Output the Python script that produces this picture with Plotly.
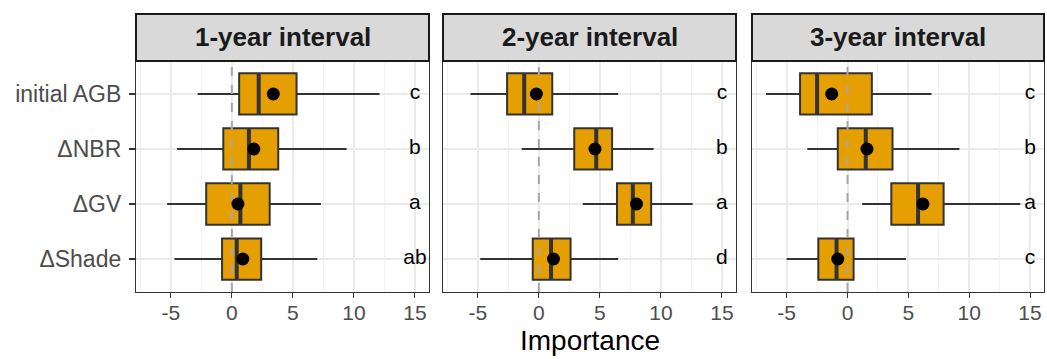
import plotly.graph_objects as go
from plotly.subplots import make_subplots

# ---------------- data ----------------
categories = ["initial AGB", "\u0394NBR", "\u0394GV", "\u0394Shade"]
panels = ["1-year interval", "2-year interval", "3-year interval"]

# per panel, values ordered as categories (top to bottom)
lower_1 = [-2.8, -4.5, -5.3, -4.7]
q1_1 = [0.6, -0.7, -2.1, -0.8]
med_1 = [2.2, 1.4, 0.7, 0.4]
q3_1 = [5.3, 3.8, 3.1, 2.4]
upper_1 = [12.1, 9.4, 7.3, 7.0]
mean_1 = [3.4, 1.8, 0.5, 0.9]
letters_1 = ["c", "b", "a", "ab"]

lower_2 = [-5.6, -1.4, 3.6, -4.8]
q1_2 = [-2.6, 2.9, 6.4, -0.5]
med_2 = [-1.2, 4.7, 7.7, 1.0]
q3_2 = [1.1, 6.0, 9.2, 2.6]
upper_2 = [6.5, 9.4, 12.6, 6.5]
mean_2 = [-0.2, 4.6, 8.0, 1.2]
letters_2 = ["c", "b", "a", "d"]

lower_3 = [-6.7, -3.3, 1.2, -5.0]
q1_3 = [-3.9, -0.8, 3.6, -2.4]
med_3 = [-2.5, 1.5, 5.8, -0.9]
q3_3 = [2.0, 3.7, 7.9, 0.5]
upper_3 = [6.9, 9.2, 14.2, 4.8]
mean_3 = [-1.3, 1.6, 6.2, -0.8]
letters_3 = ["c", "b", "a", "c"]

letter_x = 15
ref_x = 0
x_tickvals = [-5, 0, 5, 10, 15]
x_ticktext = ["-5", "0", "5", "10", "15"]

stats = [
    (lower_1, q1_1, med_1, q3_1, upper_1, mean_1, letters_1),
    (lower_2, q1_2, med_2, q3_2, upper_2, mean_2, letters_2),
    (lower_3, q1_3, med_3, q3_3, upper_3, mean_3, letters_3),
]

# ---------------- style ----------------
FONT = "Liberation Sans, Arial, sans-serif"
FILL = "#E69F00"
DARK = "#333333"
BOX_W = 0.75
W, H = 1047, 359
ML, MR, MT, MB = 136, 3, 61, 67
plot_w = W - ML - MR
plot_h = H - MT - MB
px = lambda p: p / plot_w
Y_RANGE = [0.4, 4.6]

domains = [
    [0, px(429 - ML)],
    [px(443 - ML), px(736 - ML)],
    [px(752 - ML), 1.0],
]

fig = make_subplots(rows=1, cols=3, shared_yaxes=True, horizontal_spacing=0.015)

ypos = list(range(len(categories), 0, -1))  # 4,3,2,1

for i, (lo, q1, md, q3, up, mn, lets) in enumerate(stats):
    col = i + 1
    # dashed reference line at zero (behind boxes)
    fig.add_trace(go.Scatter(
        x=[ref_x, ref_x], y=Y_RANGE, mode="lines",
        line=dict(color="#A6A6A6", width=2, dash="dash"),
        showlegend=False, hoverinfo="skip",
    ), row=1, col=col)
    fig.add_trace(go.Box(
        y=ypos, q1=q1, median=md, q3=q3, lowerfence=lo, upperfence=up,
        orientation="h", width=BOX_W, whiskerwidth=0,
        fillcolor=FILL, line=dict(color=DARK, width=2),
        boxpoints=False, showlegend=False, hoverinfo="skip",
    ), row=1, col=col)
    # thicker median segments
    mx, my = [], []
    for m, p in zip(md, ypos):
        mx += [m, m, None]
        my += [p - BOX_W / 2, p + BOX_W / 2, None]
    fig.add_trace(go.Scatter(
        x=mx, y=my, mode="lines", line=dict(color=DARK, width=4),
        showlegend=False, hoverinfo="skip",
    ), row=1, col=col)
    fig.add_trace(go.Scatter(
        x=mn, y=ypos, mode="markers",
        marker=dict(color="black", size=13),
        showlegend=False, hoverinfo="skip",
    ), row=1, col=col)
    fig.add_trace(go.Scatter(
        x=[letter_x] * len(lets), y=ypos, mode="text", text=lets,
        textposition="middle center",
        textfont=dict(family=FONT, size=21, color="black"),
        showlegend=False, hoverinfo="skip",
    ), row=1, col=col)

    xa = "x" if i == 0 else f"x{col}"
    ya = "y" if i == 0 else f"y{col}"
    # strip
    fig.add_shape(type="rect", xref=f"{xa} domain", yref=f"{ya} domain",
                  x0=0, x1=1, y0=1.0, y1=1 + 47 / plot_h,
                  fillcolor="#D9D9D9", line=dict(color="#1A1A1A", width=2))
    fig.add_annotation(xref=f"{xa} domain", yref=f"{ya} domain", x=0.5,
                       y=1 + 24 / plot_h, text=f"<b>{panels[i]}</b>", showarrow=False,
                       font=dict(family=FONT, size=26, color="#1A1A1A"),
                       xanchor="center", yanchor="middle")

    fig.update_xaxes(
        domain=domains[i], range=[-7.85, 16.15],
        tickvals=x_tickvals, ticktext=x_ticktext,
        ticks="outside", ticklen=5, tickwidth=1.3, tickcolor=DARK,
        ticklabelstandoff=-3,
        tickfont=dict(family=FONT, size=21, color="#4D4D4D"),
        showgrid=True, gridcolor="#EBEBEB", gridwidth=1.5,
        minor=dict(tickvals=[-7.5, -2.5, 2.5, 7.5, 12.5], showgrid=True,
                   gridcolor="#F2F2F2", gridwidth=1, ticks=""),
        showline=True, linecolor=DARK, linewidth=1.3, mirror=True,
        zeroline=False, row=1, col=col,
    )
    fig.update_yaxes(
        range=Y_RANGE, tickvals=ypos, ticktext=categories,
        showticklabels=(i == 0), ticks="outside" if i == 0 else "",
        ticklen=6, tickwidth=1.5, tickcolor=DARK, ticklabelstandoff=3,
        tickfont=dict(family=FONT, size=23, color="#4D4D4D"),
        showgrid=True, gridcolor="#EBEBEB", gridwidth=1.5,
        showline=True, linecolor=DARK, linewidth=1.3, mirror=True,
        zeroline=False, row=1, col=col,
    )

fig.add_annotation(xref="paper", yref="paper", x=0.5, y=-(H - 1 - (H - MB)) / plot_h,
                   text="Importance", showarrow=False,
                   font=dict(family=FONT, size=28, color="black"),
                   xanchor="center", yanchor="bottom")

fig.update_layout(
    width=W, height=H,
    margin=dict(l=ML, r=MR, t=MT, b=MB, pad=0),
    paper_bgcolor="white", plot_bgcolor="white",
    font=dict(family=FONT),
    showlegend=False,
)

fig.write_html("out.html")
